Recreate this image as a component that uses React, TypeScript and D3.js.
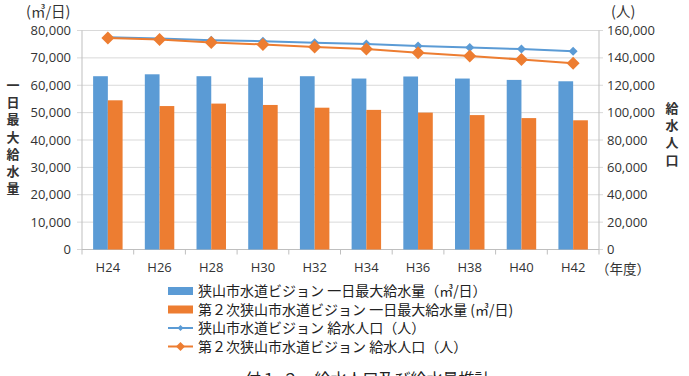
import React from "react";
import * as d3 from "d3";

const years = ["H24", "H26", "H28", "H30", "H32", "H34", "H36", "H38", "H40", "H42"];
const maxDailyOld = [63300, 64000, 63300, 62800, 63300, 62450, 63200, 62450, 61950, 61450];
const maxDailyNew = [54500, 52400, 53300, 52800, 51800, 51000, 50000, 49100, 48000, 47200];
const popOld = [155100, 154200, 152900, 152200, 151000, 150200, 148700, 147600, 146400, 144900];
const popNew = [154500, 153500, 151300, 149800, 147900, 146400, 143700, 141300, 138800, 136100];
const leftTicks = [0, 10000, 20000, 30000, 40000, 50000, 60000, 70000, 80000];
const rightTicks = [0, 20000, 40000, 60000, 80000, 100000, 120000, 140000, 160000];

const legendItems = [
  { label: "狭山市水道ビジョン 一日最大給水量（㎥/日）", color: "#5B9BD5", kind: "bar" },
  { label: "第２次狭山市水道ビジョン 一日最大給水量 (㎥/日)", color: "#ED7D31", kind: "bar" },
  { label: "狭山市水道ビジョン 給水人口（人）", color: "#5B9BD5", kind: "line" },
  { label: "第２次狭山市水道ビジョン 給水人口（人）", color: "#ED7D31", kind: "line" },
];

const BLUE = "#5B9BD5";
const ORANGE = "#ED7D31";
const FONT = "'Noto Sans CJK JP', 'Noto Sans', sans-serif";
const NUM_FONT = "'Open Sans', 'Noto Sans', sans-serif";

const diamond = (cx: number, cy: number, r: number) =>
  `M${cx},${cy - r}L${cx + r},${cy}L${cx},${cy + r}L${cx - r},${cy}Z`;

export default function App() {
  const left = 82;
  const right = 599;
  const top = 30.5;
  const bottom = 249.5;

  const x = d3.scaleBand<string>().domain(years).range([left, right]);
  const yL = d3.scaleLinear().domain([0, 80000]).range([bottom, top]);
  const yR = d3.scaleLinear().domain([0, 160000]).range([bottom, top]);
  const fmt = d3.format(",");
  const barW = x.bandwidth() * 0.285;
  const cx = (y: string) => (x(y) as number) + x.bandwidth() / 2;

  const line = d3
    .line<number>()
    .x((_, i) => cx(years[i]))
    .y((d) => yR(d));

  return (
    <div style={{ position: "absolute", left: 0, top: 0 }}>
      <svg width={689} height={376} style={{ display: "block", background: "#fff" }} fontFamily={FONT}>
        {/* grid */}
        {leftTicks.map((t) => (
          <line key={t} x1={left - 5} x2={right + 4} y1={yL(t)} y2={yL(t)} stroke="#d9d9d9" strokeWidth={1} />
        ))}
        <line x1={left} x2={left} y1={top} y2={bottom} stroke="#bfbfbf" />
        <line x1={right} x2={right} y1={top} y2={bottom} stroke="#bfbfbf" />
        <line x1={left} x2={right} y1={bottom} y2={bottom} stroke="#bfbfbf" />
        {years.map((y) => (
          <line key={y} x1={x(y)} x2={x(y)} y1={bottom} y2={bottom + 5} stroke="#bfbfbf" />
        ))}
        <line x1={right} x2={right} y1={bottom} y2={bottom + 5} stroke="#bfbfbf" />

        {/* bars */}
        {years.map((y, i) => (
          <g key={y}>
            <rect x={cx(y) - barW} y={yL(maxDailyOld[i])} width={barW} height={bottom - yL(maxDailyOld[i])} fill={BLUE} />
            <rect x={cx(y)} y={yL(maxDailyNew[i])} width={barW} height={bottom - yL(maxDailyNew[i])} fill={ORANGE} />
          </g>
        ))}

        {/* population lines */}
        <path d={line(popOld) as string} fill="none" stroke={BLUE} strokeWidth={2} />
        {popOld.map((v, i) => (
          <path key={i} d={diamond(cx(years[i]), yR(v), 4.5)} fill={BLUE} />
        ))}
        <path d={line(popNew) as string} fill="none" stroke={ORANGE} strokeWidth={2} />
        {popNew.map((v, i) => (
          <path key={i} d={diamond(cx(years[i]), yR(v), 6.5)} fill={ORANGE} />
        ))}

        {/* axis labels */}
        {leftTicks.map((t) => (
          <text key={t} x={71} y={yL(t) + 4.5} textAnchor="end" fontSize={13} fontFamily={NUM_FONT} fill="#333">
            {fmt(t)}
          </text>
        ))}
        {rightTicks.map((t) => (
          <text key={t} x={607} y={yR(t) + 4.5} fontSize={13} fontFamily={NUM_FONT} fill="#333">
            {fmt(t)}
          </text>
        ))}
        {years.map((y) => (
          <text key={y} x={cx(y)} y={272} textAnchor="middle" fontSize={13} fontFamily={NUM_FONT} fill="#333">
            {y}
          </text>
        ))}
        <text x={596} y={273.5} fontSize={13.5} fill="#333">（年度）</text>
        <text x={26} y={17} fontSize={14.5} fill="#333">(㎥/日)</text>
        <text x={611} y={17} fontSize={14.5} fill="#333">(人)</text>

        {"一日最大給水量".split("").map((c, i) => (
          <text key={i} x={13} y={90 + i * 17.2} textAnchor="middle" fontSize={13} fontWeight="bold" fill="#333">
            {c}
          </text>
        ))}
        {"給水人口".split("").map((c, i) => (
          <text key={i} x={672} y={113 + i * 17.2} textAnchor="middle" fontSize={13} fontWeight="bold" fill="#333">
            {c}
          </text>
        ))}

        {/* legend */}
        {legendItems.map((item, i) => {
          const ly = 291 + i * 18.5;
          return (
            <g key={i}>
              {item.kind === "bar" ? (
                <rect x={168} y={ly - 4} width={25} height={8} fill={item.color} />
              ) : (
                <g>
                  <line x1={168} x2={193} y1={ly} y2={ly} stroke={item.color} strokeWidth={2} />
                  <path d={diamond(180.5, ly, item.color === BLUE ? 3 : 4.5)} fill={item.color} />
                </g>
              )}
              <text x={198} y={ly + 5} fontSize={14} fill="#222">
                {item.label}
              </text>
            </g>
          );
        })}

        <text x={245} y={385} fontSize={16} fill="#222">付１-２　給水人口及び給水量推計</text>
      </svg>
    </div>
  );
}
